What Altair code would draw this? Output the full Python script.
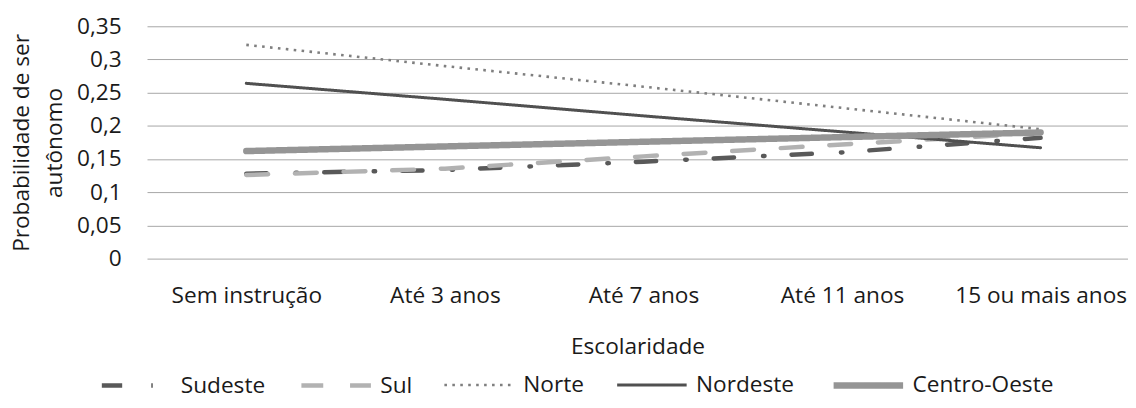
import json
import altair as alt
import pandas as pd

categories = ["Sem instrução", "Até 3 anos", "Até 7 anos", "Até 11 anos", "15 ou mais anos"]
series_names = ["Sudeste", "Sul", "Norte", "Nordeste", "Centro-Oeste"]
sudeste = [0.128, 0.1335, 0.146, 0.160, 0.182]
sul = [0.126, 0.1355, 0.154, 0.172, 0.189]
norte = [0.322, 0.290, 0.259, 0.227, 0.195]
nordeste = [0.264, 0.240, 0.215, 0.191, 0.167]
centro_oeste = [0.162, 0.169, 0.176, 0.183, 0.190]
y_ticks = [0, 0.05, 0.1, 0.15, 0.2, 0.25, 0.3, 0.35]

colors = ["#595959", "#b2b2b2", "#7f7f7f", "#505050", "#959595"]
dashes = [[20.5, 29.3, 1.5, 27.2], [22, 27], [2.6, 5.4], [1, 0], [1, 0]]
widths = [4.5, 4.5, 2.6, 3, 6.5]
caps = ["round", "round", "butt", "round", "round"]

rows = []
for name, vals in zip(series_names, [sudeste, sul, norte, nordeste, centro_oeste]):
    for i, (c, v) in enumerate(zip(categories, vals)):
        rows.append({"Região": name, "idx": i, "Escolaridade": c, "valor": v})
df = pd.DataFrame(rows)

FONT = "Open Sans"
FS = 22.8
TXT = "#1a1a1a"

legend = alt.Legend(
    title=None, orient="none", legendX=-49, legendY=323, direction="horizontal",
    columns=5, symbolType="stroke", symbolSize=4900, labelFontSize=FS, labelFont=FONT,
    labelColor=TXT, labelOffset=6, columnPadding=26, padding=0,
)

x = alt.X(
    "idx:Q",
    scale=alt.Scale(domain=[-0.5, 4.44], nice=False, zero=False),
    axis=alt.Axis(
        values=[0, 1, 2, 3, 4],
        labelExpr=json.dumps(categories, ensure_ascii=False) + "[datum.value]",
        title="Escolaridade", grid=False, domain=False, ticks=False,
        labelPadding=26, titlePadding=29, labelOverlap=False, labelFlush=False,
    ),
)
y = alt.Y(
    "valor:Q",
    scale=alt.Scale(domain=[0, 0.35], nice=False, zero=True),
    axis=alt.Axis(
        values=y_ticks,
        labelExpr="replace(format(datum.value, '.2~f'), '.', ',')",
        title=["Probabilidade de ser", "autônomo"], titleLineHeight=33,
        grid=True, gridColor="#a6a6a6", gridWidth=1, domain=False, ticks=False,
        labelPadding=26, titlePadding=10,
    ),
)

color = alt.Color("Região:N", scale=alt.Scale(domain=series_names, range=colors), legend=legend)
dash = alt.StrokeDash("Região:N", scale=alt.Scale(domain=series_names, range=dashes), legend=legend)
sw = alt.StrokeWidth("Região:N", scale=alt.Scale(type="ordinal", domain=series_names, range=widths), legend=legend)

layers = []
for name, cap in zip(series_names, caps):
    layers.append(
        alt.Chart(df)
        .transform_filter(alt.datum["Região"] == name)
        .mark_line(strokeCap=cap, strokeJoin="round")
        .encode(x=x, y=y, color=color, strokeDash=dash, strokeWidth=sw)
    )

chart = (
    alt.layer(*layers)
    .properties(
        width=988, height=234,
        autosize=alt.AutoSizeParams(type="none"),
        padding={"left": 140, "top": 17, "right": 0, "bottom": 141},
    )
    .configure_view(stroke=None)
    .configure_axis(
        labelFont=FONT, titleFont=FONT, labelFontSize=FS, titleFontSize=FS,
        labelColor=TXT, titleColor=TXT, titleFontWeight="normal",
    )
)

chart.save("out.html", embed_options={"renderer": "svg", "actions": False})
